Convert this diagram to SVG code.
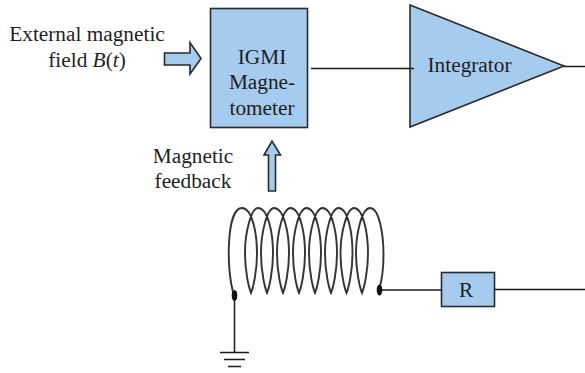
<svg xmlns="http://www.w3.org/2000/svg" width="585" height="373" viewBox="0 0 585 373">
<style>
.b{fill:#a5cbee;stroke:#2a2a2a;stroke-width:1.6}
.w{fill:none;stroke:#1a1a1a;stroke-width:1.5}
.c{fill:none;stroke:#333;stroke-width:1.9}
text{font-family:"Liberation Serif","Times New Roman",serif;font-size:21.3px;fill:#1f1f1f;text-anchor:middle}
</style>
<rect width="585" height="373" fill="#fff"/>
<g id="magnetometer">
<rect class="b" x="210.500" y="8.500" width="97" height="119"/>
<text x="262" y="64">IGMI</text>
<text x="262" y="89">Magne-</text>
<text x="262" y="115">tometer</text>
</g>
<g id="integrator">
<path class="b" d="M410,5L564,66L410,127Z"/>
<text x="469.500" y="72">Integrator</text>
</g>
<g id="resistor">
<rect class="b" x="441.500" y="272.500" width="53" height="34"/>
<text x="466" y="297">R</text>
</g>
<g id="input-arrow">
<path class="b" d="M164.500,53H190V42.500L201,58.500L190,74V65H164.500Z"/>
</g>
<g id="feedback-arrow">
<path class="b" d="M268.500,191V155H264L272,141L280.500,155H275.500V191Z"/>
</g>
<g id="input-label">
<text x="87" y="41">External magnetic</text>
<text x="87" y="67">field <tspan font-style="italic">B</tspan>(<tspan font-style="italic">t</tspan>)</text>
</g>
<g id="feedback-label">
<text x="193" y="163">Magnetic</text>
<text x="193" y="188">feedback</text>
</g>
<g id="coil">
<path class="c" d="M234,295C226,272 226,208 242,208C252,208 257,233 257,253C257,272 253,288 251,293C249,288 245,272 245,253C245,233 251,208 258,208C268,208 273,233 273,253C273,272 269,288 267,293C265,288 261,272 261,253C261,233 267,208 274,208C284,208 289,233 289,253C289,272 285,288 283,293C281,288 277,272 277,253C277,233 283,208 290.500,208C300,208 305,233 305,253C305,272 301,288 299,293C297,288 293,272 293,253C293,233 299,208 306.500,208C316,208 321,233 321,253C321,272 317,288 315,293C313,288 309,272 309,253C309,233 315,208 322.500,208C332,208 337,233 337,253C337,272 333,288 331,293C329,288 325,272 325,253C325,233 331,208 338.500,208C348,208 352.500,233 352.500,253C352.500,272 348.500,288 346.500,293C344.500,288 340.500,272 340.500,253C340.500,233 347,208 354,208C363,208 368,233 368,253C368,272 364,288 362,293C360,288 356,272 356,253C356,233 362,208 370,208C379,208 383.500,233 383.500,255C383.500,270 382,280 379,290"/>
<ellipse cx="234.500" cy="295.500" rx="2.800" ry="5.500" fill="#111"/>
<ellipse cx="379.500" cy="290" rx="2.800" ry="5.500" fill="#111"/>
</g>
<g id="ground">
<path class="w" d="M220,352.500H249M224,359.500H245M228,366.500H241"/>
</g>
<g id="connectors">
<path class="w" d="M311,68.500H414"/>
<path class="w" d="M564,66.500H585"/>
<path class="w" d="M380,290H441"/>
<path class="w" d="M495,289.500H585"/>
<path class="w" d="M234.500,296V352"/>
</g>
</svg>
